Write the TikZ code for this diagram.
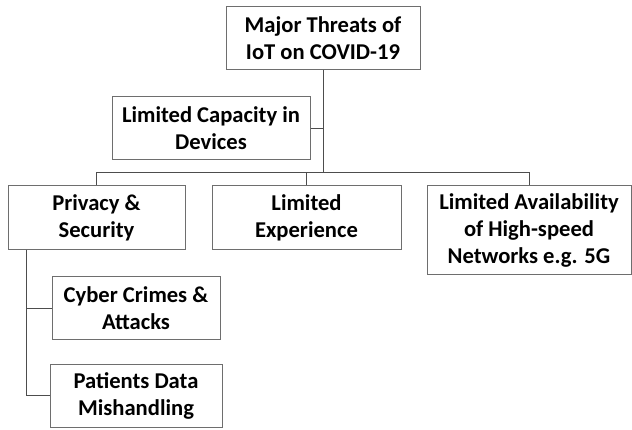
\documentclass[tikz,border=0pt]{standalone}
\usepackage{fontspec}
\setmainfont{Carlito}
\usepackage{tikz}
\usepackage{xcolor}
\usetikzlibrary{positioning}
\definecolor{boxline}{RGB}{110,110,110}
\tikzset{
  blk/.style={draw=boxline,line width=1pt,fill=white,align=center,inner sep=2pt,
    font=\fontsize{22.6}{27}\selectfont\bfseries,minimum height=63pt},
  link/.style={draw=boxline!70!black,line width=1pt}
}

\begin{document}
\begin{tikzpicture}[x=1pt,y=-1pt]
  \useasboundingbox (0,0) rectangle (632,430);
  \node[blk,minimum width=194pt] at(323,38)(top){Major Threats of\\IoT on COVID-19};
  \node[blk,minimum width=198pt] at(211,128.5)(cap){Limited Capacity in\\Devices};
  \node[blk,minimum width=177pt,minimum height=64pt] at(96.5,218)(priv){Privacy \&\\Security};
  \node[blk,minimum width=189pt,minimum height=64pt] at(306.5,218)(exp){Limited\\Experience};
  \node[blk,minimum width=204pt,minimum height=89pt] at(529,230.5)(avail){Limited Availability\\of High-speed\\Networks e.g. 5G};
  \node[blk,minimum width=168pt] at(136,308.5)(cyber){Cyber Crimes \&\\Attacks};
  \node[blk,minimum width=172pt] at(136,395.5)(pat){Patients Data\\Mishandling};
  \coordinate (bus) at(323,173);
  \coordinate (pbr) at(26,250);
  % tree lines
  \draw[link](top) -- (bus);
  \draw[link](cap.east) -- (cap.east -| top.south);
  \draw[link](priv.north) |- (bus);
  \draw[link](exp.north) -- (exp.north |- bus);
  \draw[link](avail.north) |- (bus);
  \draw[link](pbr) |- (cyber.west);
  \draw[link](pbr) |- (pat.west);
\end{tikzpicture}
\end{document}
